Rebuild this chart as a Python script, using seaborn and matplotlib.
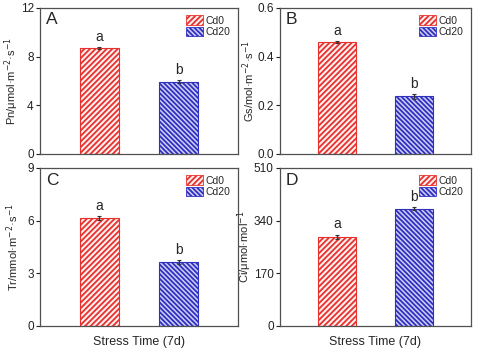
import numpy as np
import pandas as pd
import matplotlib
matplotlib.use('Agg')
import matplotlib.pyplot as plt
import seaborn as sns
from matplotlib.patches import Patch

sns.set_style('ticks')
plt.rcParams['font.family'] = ['Liberation Sans', 'DejaVu Sans']
plt.rcParams['hatch.linewidth'] = 1.3

treatments = ['Cd0', 'Cd20']
pn = [8.75, 5.95]
pn_err = [0.08, 0.10]
gs = [0.46, 0.238]
gs_err = [0.004, 0.010]
tr = [6.15, 3.65]
tr_err = [0.10, 0.09]
ci = [288, 379]
ci_err = [7, 6]
letters_pn = ['a', 'b']
letters_gs = ['a', 'b']
letters_tr = ['a', 'b']
letters_ci = ['a', 'b']

colors = ['#e8302c', '#3030c0']
fills = ['#fdeeee', '#cfcff5']
hatches = ['//////', '\\\\\\\\\\\\\\']
frame = '#505050'

panels = [
    ('A', pn, pn_err, letters_pn, 'Pn/μmol·m$^{-2}$·s$^{-1}$', [0, 4, 8, 12], None,
     [40, 8, 238, 154], 19),
    ('B', gs, gs_err, letters_gs, 'Gs/mol·m$^{-2}$·s$^{-1}$', [0.0, 0.2, 0.4, 0.6], '%.1f',
     [280, 8, 471, 154], 23),
    ('C', tr, tr_err, letters_tr, 'Tr/mmol·m$^{-2}$·s$^{-1}$', [0, 3, 6, 9], None,
     [40, 168, 238, 326], 19),
    ('D', ci, ci_err, letters_ci, 'Ci/μmol·mol$^{-1}$', [0, 170, 340, 510], None,
     [280, 168, 471, 326], 26),
]

W, H = 485, 354
fig = plt.figure(figsize=(W / 100, H / 100), dpi=100)

for tag, vals, errs, lets, ylab, yticks, fmt, box, lab_off in panels:
    x0, y0, x1, y1 = box
    ax = fig.add_axes([x0 / W, 1 - y1 / H, (x1 - x0) / W, (y1 - y0) / H])
    df = pd.DataFrame({'trt': treatments, 'val': vals})
    sns.barplot(data=df, x='trt', y='val', hue='trt', palette=colors,
                width=0.5, errorbar=None, legend=False, ax=ax)
    for p, c, f, h in zip(ax.patches, colors, fills, hatches):
        p.set_facecolor(f)
        p.set_edgecolor(c)
        p.set_hatch(h)
        p.set_linewidth(0.8)
    pos = np.arange(len(treatments))
    ax.errorbar(pos, vals, yerr=errs, fmt='none', ecolor='#333333',
                elinewidth=1.0, capsize=1.5, capthick=0.8)
    top = yticks[-1]
    for xi, v, e, l in zip(pos, vals, errs, lets):
        ax.text(xi, v + e + top * 0.02, l, ha='center', va='bottom', fontsize=10)
    ax.set_xlim(-0.75, 1.75)
    ax.set_ylim(0, top)
    ax.set_yticks(yticks)
    if fmt:
        ax.set_yticklabels([fmt % t for t in yticks])
    ax.set_xticks([])
    ax.set_ylabel(ylab, fontsize=8)
    ax.yaxis.set_label_coords(-lab_off / (x1 - x0), 0.5)
    if tag in ('C', 'D'):
        ax.set_xlabel('Stress Time (7d)', fontsize=9, labelpad=7)
    else:
        ax.set_xlabel('')
    ax.tick_params(axis='y', labelsize=8.5, length=3, width=0.8, colors='#222222', pad=1.5)
    for s in ax.spines.values():
        s.set_visible(True)
        s.set_color(frame)
        s.set_linewidth(0.9)
    ax.text(0.03, 0.97, tag, transform=ax.transAxes, ha='left', va='top', fontsize=12.5)
    handles = [Patch(facecolor=f, edgecolor=c, hatch=h, linewidth=0.6, label=t)
               for c, f, h, t in zip(colors, fills, hatches, treatments)]
    ax.legend(handles=handles, loc='upper right', fontsize=7.5, frameon=False,
              handlelength=1.6, handleheight=1.0, handletextpad=0.3,
              labelspacing=0.1, borderaxespad=0.3)

fig.savefig('out.png', dpi=100)
